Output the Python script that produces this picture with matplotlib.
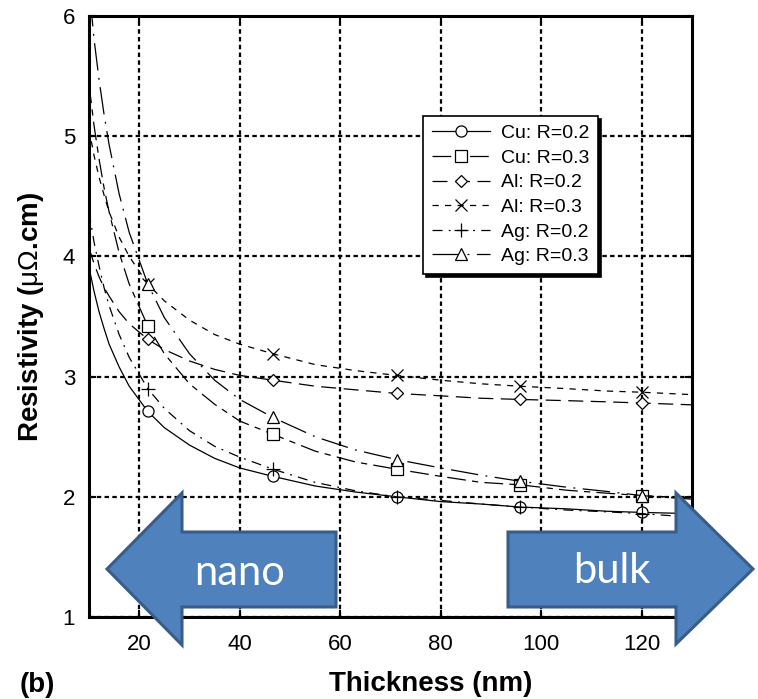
import matplotlib
matplotlib.use("Agg")
import matplotlib.pyplot as plt
from matplotlib.patches import Polygon

plt.rcParams['font.family'] = ['Liberation Sans', 'DejaVu Sans']
plt.rcParams['mathtext.fontset'] = 'custom'
plt.rcParams['mathtext.rm'] = 'Liberation Sans'

# thickness grid (nm) and values (uOhm.cm)
thick = [10, 11, 12, 13, 14, 16, 18, 21.7, 25, 30, 35, 40, 46.6, 55, 63,
         71.2, 80, 88, 95.7, 105, 113, 120, 130]
marker_idx = [7, 12, 15, 18, 21]

cu_02 = [3.91, 3.71, 3.54, 3.40, 3.27, 3.08, 2.92, 2.71, 2.575, 2.43, 2.32, 2.24,
         2.17, 2.09, 2.04, 2.00, 1.96, 1.94, 1.915, 1.90, 1.88, 1.87, 1.86]
cu_03 = [5.43, 5.09, 4.81, 4.57, 4.37, 4.03, 3.77, 3.42, 3.19, 2.94, 2.77, 2.63,
         2.52, 2.38, 2.29, 2.23, 2.17, 2.12, 2.10, 2.055, 2.03, 2.01, 1.99]
al_02 = [4.07, 3.94, 3.83, 3.74, 3.67, 3.54, 3.44, 3.31, 3.225, 3.13, 3.06, 3.01,
         2.97, 2.92, 2.89, 2.86, 2.84, 2.82, 2.81, 2.80, 2.79, 2.78, 2.765]
al_03 = [5.06, 4.84, 4.66, 4.51, 4.37, 4.16, 4.00, 3.77, 3.63, 3.47, 3.35, 3.27,
         3.19, 3.10, 3.05, 3.01, 2.97, 2.94, 2.92, 2.90, 2.88, 2.87, 2.85]
ag_02 = [4.37, 4.12, 3.92, 3.74, 3.59, 3.35, 3.16, 2.90, 2.735, 2.55, 2.42, 2.33,
         2.23, 2.12, 2.05, 2.00, 1.97, 1.94, 1.915, 1.89, 1.875, 1.86, 1.83]
ag_03 = [6.25, 5.81, 5.47, 5.18, 4.93, 4.52, 4.20, 3.77, 3.49, 3.19, 2.97, 2.81,
         2.66, 2.50, 2.39, 2.31, 2.24, 2.18, 2.13, 2.08, 2.045, 2.01, 1.98]

labels = ['Cu: R=0.2', 'Cu: R=0.3', 'Al: R=0.2', 'Al: R=0.3', 'Ag: R=0.2', 'Ag: R=0.3']
series = [cu_02, cu_03, al_02, al_03, ag_02, ag_03]
markers = ['o', 's', 'D', 'x', '+', '^']
msizes = [8, 8, 6, 9, 10, 8]
styles = ['-', (0, (15, 5, 5, 5)), (0, (12, 6)), (0, (5, 5)),
          (0, (8, 5, 1.5, 5)), (0, (22, 6, 1.5, 6))]

fig = plt.figure(figsize=(7.58, 6.99), dpi=100)
ax = fig.add_axes([89/758, 1-617/699, 603/758, 601/699])

for y, lab, m, ms, ls in zip(series, labels, markers, msizes, styles):
    ax.plot(thick, y, color='black', lw=0.9, linestyle=ls, marker=m, ms=ms,
            markevery=marker_idx, mfc='white', mec='black', mew=0.9, label=lab)

ax.set_xlim(10, 130)
ax.set_ylim(1, 6)
ax.set_xticks([20, 40, 60, 80, 100, 120])
ax.set_yticks([1, 2, 3, 4, 5, 6])
ax.grid(True, color='black', linestyle=(0, (2, 1.5)), lw=1.6)
ax.set_axisbelow(True)
for s in ax.spines.values():
    s.set_linewidth(2.2)
ax.tick_params(direction='in', length=5, width=1.5, top=True, right=True)
ax.tick_params(axis='x', labelsize=16, pad=12)
ax.tick_params(axis='y', labelsize=16, pad=10)

ax.set_xlabel('Thickness (nm)', fontsize=20, fontweight='bold')
ax.xaxis.set_label_coords(0.566, -0.112)
ax.xaxis.label.set_va('center')
ax.set_ylabel(r'Resistivity ($\mathrm{\mu\Omega}$.cm)', fontsize=20, fontweight='bold')
ax.yaxis.set_label_coords(-0.096, 0.5)
ax.yaxis.label.set_va('center')

leg = ax.legend(loc='upper left', bbox_to_anchor=(0.554, 0.834), borderaxespad=0,
                fontsize=14, labelspacing=0.36, handlelength=3.0, handletextpad=0.55,
                numpoints=1, fancybox=False, framealpha=1, edgecolor='black',
                shadow={'color': 'black', 'alpha': 1}, borderpad=0.45)
leg.get_frame().set_linewidth(1.2)

fig.text(20/758, 1-685/699, '(b)', fontsize=20, fontweight='bold', va='center')

# big blue arrows (figure pixel coordinates)
def px(pts):
    return [(x/758, 1-y/699) for x, y in pts]

left_arrow = [(107, 569), (182, 493), (182, 532), (336, 532), (336, 607), (182, 607), (182, 645)]
right_arrow = [(508, 532), (676, 532), (676, 493), (753, 569), (676, 644), (676, 607), (508, 607)]
for pts in (left_arrow, right_arrow):
    fig.add_artist(Polygon(px(pts), closed=True, transform=fig.transFigure,
                           facecolor='#4F81BD', edgecolor='#385D8A', lw=2.2, zorder=10))

fig.text(240/758, 1-585/699, 'nano', fontsize=30, family='Lato', color='white',
         ha='center', va='baseline', zorder=11)
fig.text(612/758, 1-583/699, 'bulk', fontsize=30, family='Lato', color='white',
         ha='center', va='baseline', zorder=11)

fig.savefig('out.png', dpi=100)
